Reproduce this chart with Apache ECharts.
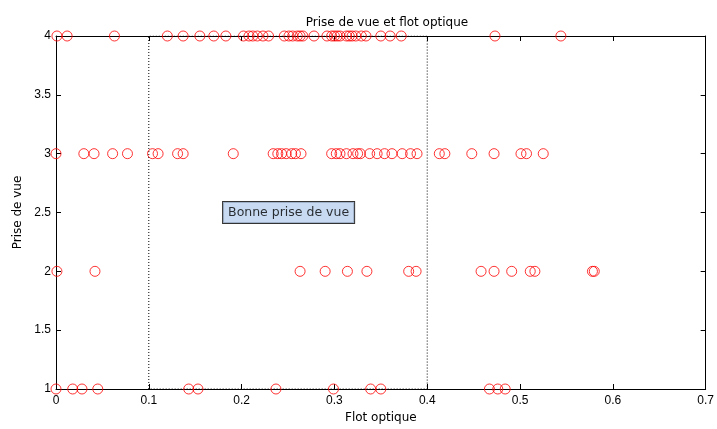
<!DOCTYPE html>
<html>
<head>
<meta charset="utf-8">
<script src="https://cdn.jsdelivr.net/npm/echarts@6/dist/echarts.min.js"></script>
<style>
  html, body { margin: 0; padding: 0; background: #ffffff; }
  #chart { width: 717px; height: 429px; }
</style>
</head>
<body>
<div id="chart"></div>
<script>
// Optical flow measured for each shot-quality level (1..4)
const row1Flot = [0.000, 0.018, 0.028, 0.045, 0.143, 0.153, 0.237, 0.299, 0.339, 0.350, 0.467, 0.476, 0.484];
const row2Flot = [0.001, 0.042, 0.263, 0.290, 0.314, 0.335, 0.380, 0.388, 0.458, 0.472, 0.491, 0.511, 0.516, 0.578, 0.580];
const row3Flot = [0.000, 0.030, 0.041, 0.061, 0.077, 0.104, 0.110, 0.131, 0.137, 0.191, 0.234, 0.239, 0.243,
                  0.248, 0.254, 0.258, 0.264, 0.297, 0.302, 0.306, 0.313, 0.320, 0.325, 0.328, 0.338, 0.346,
                  0.354, 0.362, 0.373, 0.382, 0.389, 0.413, 0.419, 0.448, 0.472, 0.501, 0.507, 0.525];
const row4Flot = [0.001, 0.012, 0.063, 0.120, 0.137, 0.155, 0.170, 0.183, 0.202, 0.208, 0.212, 0.217, 0.223,
                  0.229, 0.246, 0.251, 0.255, 0.260, 0.263, 0.266, 0.278, 0.292, 0.297, 0.300, 0.303, 0.306,
                  0.313, 0.316, 0.319, 0.323, 0.329, 0.334, 0.350, 0.360, 0.372, 0.473, 0.544];

const shotLevels = [1, 2, 3, 4];
const flotRows = [row1Flot, row2Flot, row3Flot, row4Flot];

// Band of optical flow considered a good shot
const goodRange = [0.1, 0.4];
const annotationText = 'Bonne prise de vue';
const annotationAt = [0.18, 2.5];

const points = [];
flotRows.forEach((row, i) => row.forEach(v => points.push([v, shotLevels[i]])));

const yMin = 1, yMax = 4;
const bandOutline = [
  [goodRange[0], yMin], [goodRange[0], yMax], [goodRange[1], yMax],
  [goodRange[1], yMin], [goodRange[0], yMin]
];

const TICK_FONT = 'Liberation Sans';
const TEXT_FONT = 'DejaVu Sans';
const chart = echarts.init(document.getElementById('chart'), null, { renderer: 'canvas' });

const axisCommon = {
  axisLine: { show: true, onZero: false, lineStyle: { color: '#000', width: 1 } },
  axisTick: { show: true, inside: true, length: 5, lineStyle: { color: '#000' } },
  splitLine: { show: false }
};

chart.setOption({
  backgroundColor: '#ffffff',
  animation: false,
  title: {
    text: 'Prise de vue et flot optique',
    left: 382, top: 12, textAlign: 'center',
    textStyle: { fontFamily: TEXT_FONT, fontSize: 12, fontWeight: 'normal', color: '#000' }
  },
  grid: { left: 56, right: 7, top: 36, bottom: 36 },
  xAxis: [
    Object.assign({
      type: 'value', min: 0, max: 0.7, interval: 0.1, position: 'bottom',
      name: 'Flot optique', nameLocation: 'middle', nameGap: 23,
      nameTextStyle: { fontFamily: TEXT_FONT, fontSize: 12, color: '#000' },
      axisLabel: { fontFamily: TICK_FONT, fontSize: 12, color: '#000', margin: 6,
                   formatter: v => String(Math.round(v * 10) / 10) }
    }, axisCommon),
    Object.assign({
      type: 'value', min: 0, max: 0.7, interval: 0.1, position: 'top',
      axisLabel: { show: false }
    }, axisCommon)
  ],
  yAxis: [
    Object.assign({
      type: 'value', min: yMin, max: yMax, interval: 0.5, position: 'left',
      name: 'Prise de vue', nameLocation: 'middle', nameGap: 31,
      nameTextStyle: { fontFamily: TEXT_FONT, fontSize: 12, color: '#000' },
      axisLabel: { fontFamily: TICK_FONT, fontSize: 12, color: '#000', margin: 5 }
    }, axisCommon),
    Object.assign({
      type: 'value', min: yMin, max: yMax, interval: 0.5, position: 'right',
      axisLabel: { show: false }
    }, axisCommon)
  ],
  series: [
    {
      type: 'line',
      data: bandOutline,
      symbol: 'none',
      silent: true,
      lineStyle: { color: '#000', width: 1, type: [1, 2] },
      z: 1
    },
    {
      type: 'scatter',
      data: points,
      symbol: 'circle',
      symbolSize: 10,
      clip: false,
      itemStyle: { color: 'rgba(0,0,0,0)', borderColor: '#ff0000', borderWidth: 1 },
      z: 3
    },
    {
      type: 'scatter',
      data: [annotationAt],
      symbolSize: 0,
      silent: true,
      label: {
        show: true, position: 'right', distance: 0,
        formatter: annotationText,
        fontFamily: TEXT_FONT, fontSize: 12.5, color: '#000',
        backgroundColor: '#b9d1ee', borderColor: '#000', borderWidth: 1,
        padding: [4, 5, 4, 5]
      },
      z: 4
    }
  ]
});
</script>
</body>
</html>
